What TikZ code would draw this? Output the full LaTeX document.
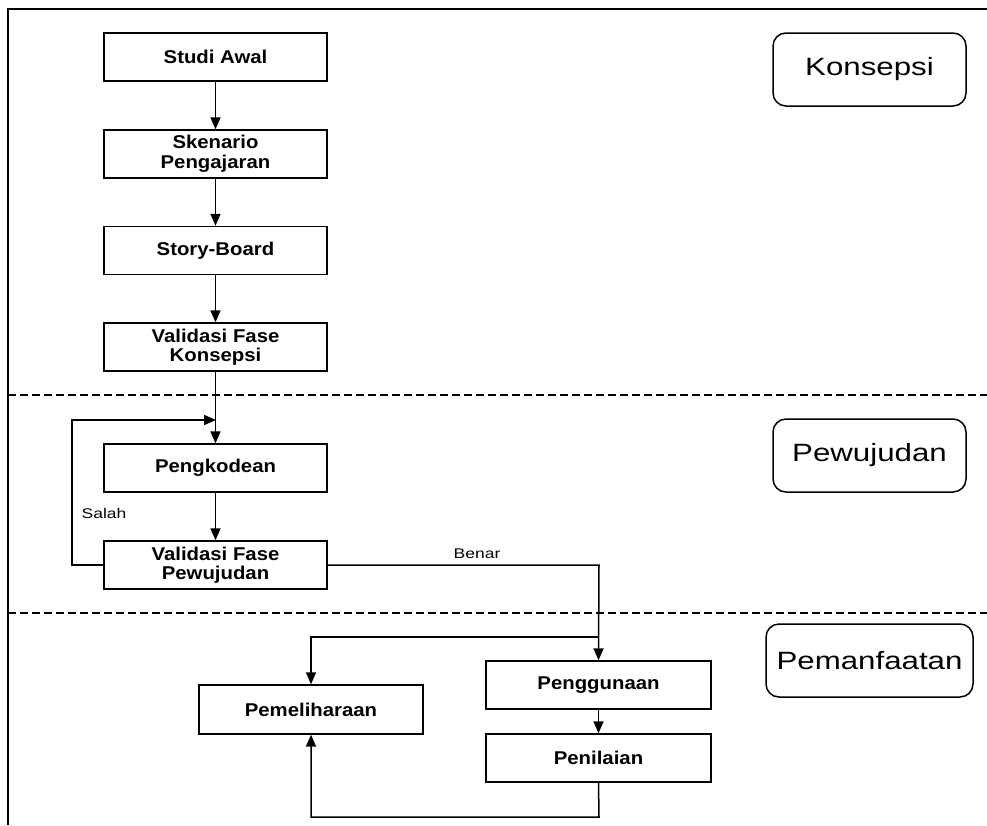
\documentclass[tikz,border=0pt]{standalone}
\usepackage{fontspec}
\setmainfont{Liberation Sans}
\newfontfamily\boxfont[FakeStretch=1.1]{Liberation Sans}
\newfontfamily\phasefont[FakeStretch=1.25]{Liberation Sans}
\begin{document}
\usetikzlibrary{arrows.meta}
\begin{tikzpicture}[x={(1pt,0)}, y={(0,-1pt)},
  procbox/.style={draw, line width=1.4pt, minimum width=223pt, minimum height=48pt, inner sep=0pt,
    align=center, font=\boxfont\bfseries\fontsize{18.5}{19.5}\selectfont},
  phasebox/.style={draw, line width=1.5pt, rounded corners=13pt, minimum height=73pt, inner sep=0pt,
    font=\phasefont\fontsize{25}{28}\selectfont},
  conn/.style={line width=1.5pt},
  arr/.style={conn, -{Triangle[length=12pt,width=10pt]}},
  lbl/.style={inner sep=0pt, font=\phasefont\fontsize{14}{16}\selectfont},
  sep/.style={line width=1.2pt, dash pattern=on 8pt off 4pt}]
\useasboundingbox (0,0) rectangle (987,825);
% frame
\draw[line width=2.2pt] (8,825) -- (8,9) -- (987,9);
% phase separators
\draw[sep] (8,395) -- (987,395);
\draw[sep] (8,613) -- (987,613);
% process boxes
\node[procbox] (studi) at (215.5,57) {Studi Awal};
\node[procbox] (sken) at (215.5,154) {Skenario\\Pengajaran};
\node[procbox] (story) at (215.5,250.5) {Story-Board};
\node[procbox] (valk) at (215.5,347) {Validasi Fase\\Konsepsi};
\node[procbox] (pengk) at (215.5,468) {Pengkodean};
\node[procbox] (valp) at (215.5,565) {Validasi Fase\\Pewujudan};
\node[procbox, minimum width=224pt, minimum height=49pt] (pemel) at (311,709.5) {Pemeliharaan};
\node[procbox, minimum width=225pt] (pengg) at (598.5,685) {Penggunaan};
\node[procbox, minimum width=225pt] (penil) at (598.5,758) {Penilaian};
% phase labels
\node[phasebox, minimum width=193pt] (konsepsi) at (869.5,69.5) {Konsepsi};
\node[phasebox, minimum width=193pt] (pewujudan) at (869.5,455.5) {Pewujudan};
\node[phasebox, minimum width=207pt] (pemanfaatan) at (869.5,660.5) {Pemanfaatan};
% coordinates
\coordinate (fbtop) at (216,420);
\coordinate (fbleftb) at (72,565);
\coordinate (fblefttop) at (72,420);
\coordinate (benarcorner) at (599,565);
\coordinate (branch) at (599,637);
\coordinate (branchleft) at (311,637);
\coordinate (retright) at (599,817);
\coordinate (retleft) at (311,817);
% connectors
\draw[arr] (studi) -- (sken);
\draw[arr] (sken) -- (story);
\draw[arr] (story) -- (valk);
\draw[arr] (valk) -- (pengk);
\draw[arr] (pengk) -- (valp);
\draw[arr] (valp.west) -- (fbleftb) -- (fblefttop) -- (fbtop);
\draw[arr] (valp.east) -- (benarcorner) -- (pengg.north);
\draw[arr] (branch) -- (branchleft) -- (pemel.north);
\draw[arr] (pengg) -- (penil);
\draw[arr] (penil.south) -- (retright) -- (retleft) -- (pemel.south);
% labels
\node[lbl] (salah) at (104,513) {Salah};
\node[lbl] (benar) at (477,554) {Benar};
\end{tikzpicture}
\end{document}
